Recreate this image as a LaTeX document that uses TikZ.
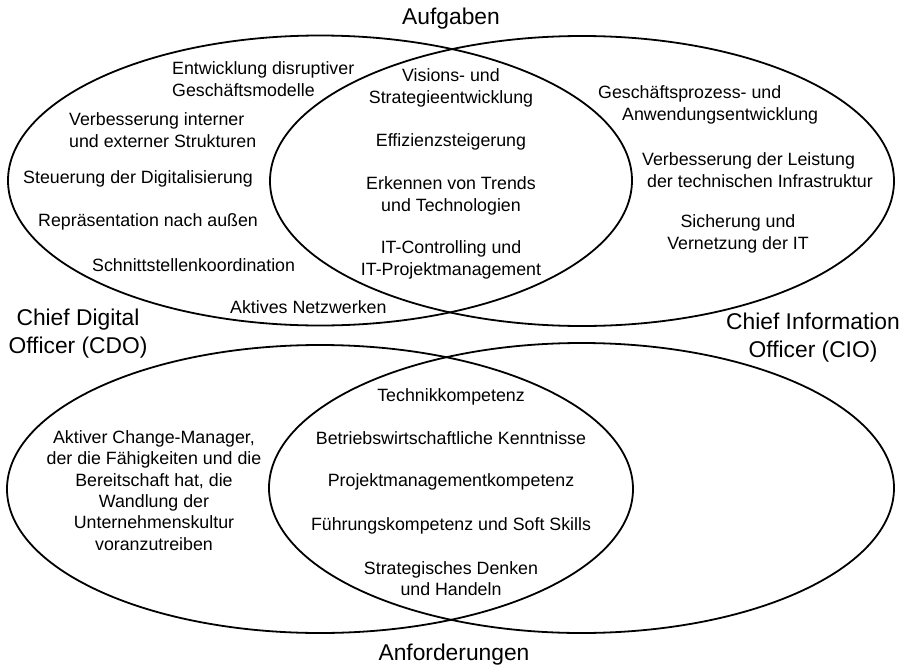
\documentclass[tikz,border=0pt]{standalone}
\usepackage{fontspec}
\setmainfont{Liberation Sans}
\begin{document}
\begin{tikzpicture}[x=1pt,y=-1pt,
  venn/.style={line width=1.8pt},
  txt/.style={inner sep=0pt,font=\fontsize{17.8}{21.4}\selectfont,align=center},
  big/.style={inner sep=0pt,font=\fontsize{22.8}{28}\selectfont,align=center}]
\useasboundingbox (0,0) rectangle (906,667);
% ellipses
\draw[venn] (320,180.5) ellipse [x radius=312,y radius=145];
\draw[venn] (582,181) ellipse [x radius=312,y radius=145];
\draw[venn] (320,489) ellipse [x radius=313,y radius=144];
\draw[venn] (581.5,488) ellipse [x radius=312.5,y radius=145];
% titles
\node[big] (aufg) at (451,19) {Aufgaben};
\node[big] (anf) at (454,655) {Anforderungen};
\node[big] (cdo) at (78,334) {Chief Digital\\Officer (CDO)};
\node[big] (cio) at (813,338) {Chief Information\\Officer (CIO)};
% top left
\node[txt,anchor=west,align=left] (edg) at (172,79) {Entwicklung disruptiver\\Geschäftsmodelle};
\node[txt,anchor=west,align=left] (vie) at (69,130) {Verbesserung interner\\und externer Strukturen};
\node[txt,anchor=west] (sdd) at (23,179) {Steuerung der Digitalisierung};
\node[txt,anchor=west] (rna) at (38,222) {Repräsentation nach außen};
\node[txt,anchor=west] (sk) at (92,265) {Schnittstellenkoordination};
\node[txt,anchor=west] (an) at (230,307) {Aktives Netzwerken};
% top middle
\node[txt] (vse) at (451,88) {Visions- und\\Strategieentwicklung};
\node[txt] (eff) at (451,142) {Effizienzsteigerung};
\node[txt] (evt) at (451,196) {Erkennen von Trends\\und Technologien};
\node[txt] (itc) at (451,260) {IT-Controlling und\\IT-Projektmanagement};
% top right
\node[txt,anchor=west,align=left] (gpa) at (598,105) {Geschäftsprozess- und\\\hspace*{24pt}Anwendungsentwicklung};
\node[txt,anchor=west,align=left] (vdl) at (642,170) {Verbesserung der Leistung\\\hspace*{5pt}der technischen Infrastruktur};
\node[txt] (svi) at (738,234) {Sicherung und\\Vernetzung der IT};
% bottom left
\node[txt] (acm) at (154,490.5) {Aktiver Change-Manager,\\der die Fähigkeiten und die\\Bereitschaft hat, die\\Wandlung der\\Unternehmenskultur\\voranzutreiben};
% bottom middle
\node[txt] (tk) at (451,397) {Technikkompetenz};
\node[txt] (bk) at (451,438) {Betriebswirtschaftliche Kenntnisse};
\node[txt] (pk) at (451,482) {Projektmanagementkompetenz};
\node[txt] (fk) at (451,526) {Führungskompetenz und Soft Skills};
\node[txt] (sd) at (451,578.5) {Strategisches Denken\\und Handeln};
\end{tikzpicture}
\end{document}
